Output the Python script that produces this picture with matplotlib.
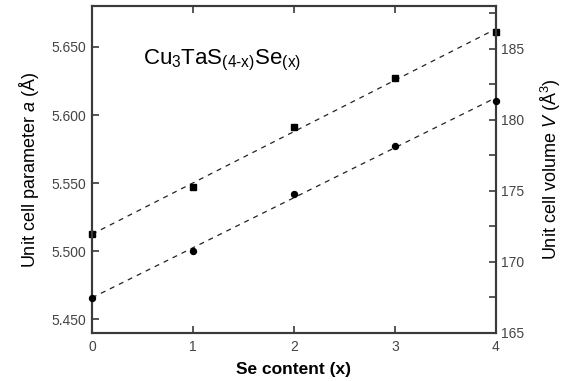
import matplotlib
matplotlib.use("Agg")
import matplotlib.pyplot as plt
import numpy as np

plt.rcParams['font.family'] = ['Liberation Sans', 'DejaVu Sans']
plt.rcParams['mathtext.fontset'] = 'custom'
plt.rcParams['mathtext.rm'] = 'Liberation Sans'
plt.rcParams['mathtext.it'] = 'Liberation Sans:italic'

se_content = [0, 1, 2, 3, 4]
lattice_a = [5.5125, 5.5474, 5.5912, 5.6272, 5.661]
cell_volume = [167.46, 170.78, 174.80, 178.19, 181.35]
x_ticks = [0, 1, 2, 3, 4]
a_ticks = [5.450, 5.500, 5.550, 5.600, 5.650]
v_ticks = [165, 170, 175, 180, 185]


def fit_line(x, y):
    k, b = np.polyfit(x, y, 1)
    xs = np.array([0, 4])
    return xs, k * xs + b


def main():
    fig = plt.figure(figsize=(5.82, 3.81), dpi=100)
    ax = fig.add_axes([0.158, 0.126, 0.694, 0.858])
    ax2 = ax.twinx()

    spine_col = '#3a3a3a'
    tick_col = '#444444'

    xs, ys = fit_line(se_content, lattice_a)
    ax.plot(xs, ys, color='#222222', lw=0.9, ls=(0, (4, 4)), zorder=2)
    ax.plot(se_content, lattice_a, 's', color='black', ms=5, clip_on=False, zorder=3)

    xs, ys = fit_line(se_content, cell_volume)
    ax2.plot(xs, ys, color='#222222', lw=0.9, ls=(0, (4, 4)), zorder=2)
    ax2.plot(se_content, cell_volume, 'o', color='black', ms=4.3, clip_on=False, zorder=3)

    ax.set_xlim(0, 4)
    ax.set_ylim(5.44, 5.68)
    ax2.set_ylim(165, 188)

    ax.set_xticks(x_ticks)
    ax.set_yticks(a_ticks)
    ax.set_yticklabels(['%.3f' % v for v in a_ticks])
    ax2.set_yticks(v_ticks)
    ax2.set_yticks(np.arange(167.5, 188, 5), minor=True)

    ax.tick_params(axis='x', direction='in', top=True, length=5, width=1.2,
                   color=spine_col, labelsize=10, labelcolor=tick_col, pad=5)
    ax.tick_params(axis='y', direction='in', length=5, width=1.2,
                   color=spine_col, labelsize=10, labelcolor=tick_col, pad=4)
    ax2.tick_params(axis='y', which='both', direction='in', length=5, width=1.2,
                    color=spine_col, labelsize=10, labelcolor=tick_col, pad=4)

    for a in (ax, ax2):
        for s in a.spines.values():
            s.set_color(spine_col)
            s.set_linewidth(1.5)

    ax.set_xlabel('Se content (x)', fontsize=12.5, fontweight='bold', labelpad=6)
    ax.set_ylabel(r'Unit cell parameter $\mathit{a}$ ($\mathrm{\AA}$)', fontsize=13, labelpad=8)
    ax2.set_ylabel(r'Unit cell volume $\mathit{V}$ ($\mathrm{\AA}^3$)', fontsize=13, labelpad=10)

    ax.text(0.126, 0.823,
            r'Cu$_3$TaS$_{\mathrm{(4}\text{-}\mathrm{x)}}$Se$_{\mathrm{(x)}}$',
            transform=ax.transAxes, fontsize=16, ha='left', va='baseline')

    fig.savefig('out.png', dpi=100)


if __name__ == '__main__':
    main()
